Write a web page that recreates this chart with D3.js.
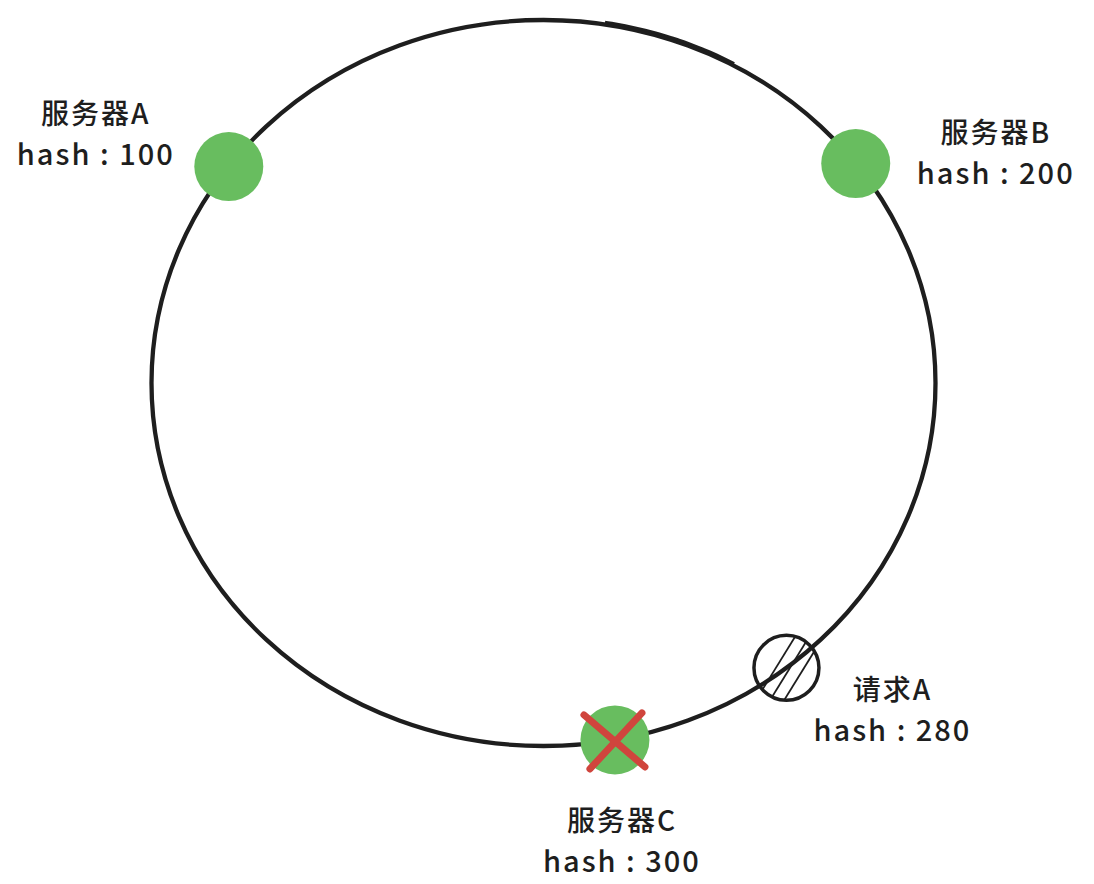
<!DOCTYPE html>
<html>
<head>
<meta charset="utf-8">
<script src="https://cdn.jsdelivr.net/npm/d3@7/dist/d3.min.js"></script>
<style>
  html, body { margin: 0; padding: 0; background: #ffffff; }
  svg { display: block; }
  text { font-family: "Noto Sans CJK SC", "Noto Sans", sans-serif; fill: #1e1e1e; }
</style>
</head>
<body>
<svg id="chart" width="1094" height="884"></svg>
<script>
// ---- data ----
const nodeNames  = ["服务器A", "服务器B", "服务器C", "请求A"];
const nodeHashes = [100, 200, 300, 280];
const nodeKinds  = ["server", "server", "server", "request"];
const nodeDown   = [false, false, true, false];
const hashLabelPrefix = "hash : ";

// ---- layout (not data) ----
const W = 1094, H = 884;
const ring = { cx: 543.5, cy: 383, rx: 392, ry: 363 };
// hash -> angle on the ring (degrees, clockwise from top), polylinear scale
const angleScale = d3.scaleLinear()
  .domain([100, 200, 280, 300])
  .range([-53.4, 52.8, 141.7, 169.5]);
// label offsets relative to each node (layout)
const labelOffset = [
  { dx: -133, dy: -55 },
  { dx: 140, dy: -33 },
  { dx: 7, dy: 79 },
  { dx: 106, dy: 20 }
];
const lineGap = 40;

const svg = d3.select("#chart");

function ringPoint(hash) {
  const t = angleScale(hash) * Math.PI / 180;
  return [ring.cx + ring.rx * Math.sin(t), ring.cy - ring.ry * Math.cos(t)];
}

// ring
svg.append("ellipse")
  .attr("cx", ring.cx).attr("cy", ring.cy)
  .attr("rx", ring.rx).attr("ry", ring.ry)
  .attr("fill", "none")
  .attr("stroke", "#1e1e1e")
  .attr("stroke-width", 4.3);

// sketchy second stroke near the top
const sketchArc = d3.range(9, 30, 1).map(a => {
  const t = a * Math.PI / 180;
  return [ring.cx + (ring.rx + 1.5) * Math.sin(t), ring.cy - (ring.ry + 2.5) * Math.cos(t)];
});
svg.append("path")
  .attr("d", d3.line().curve(d3.curveBasis)(sketchArc))
  .attr("fill", "none")
  .attr("stroke", "#1e1e1e")
  .attr("stroke-width", 2.5);

const nodes = nodeNames.map((name, i) => ({
  name, hash: nodeHashes[i], kind: nodeKinds[i], down: nodeDown[i],
  pos: ringPoint(nodeHashes[i]), off: labelOffset[i]
}));

const defs = svg.append("defs");

// nodes
nodes.forEach((d, i) => {
  const [x, y] = d.pos;
  if (d.kind === "server") {
    svg.append("circle")
      .attr("cx", x).attr("cy", y).attr("r", 34.5)
      .attr("fill", "#68bd5f");
    if (d.down) {
      const s = 28;
      svg.append("line")
        .attr("x1", x - s - 3).attr("y1", y - s + 3)
        .attr("x2", x + s + 2).attr("y2", y + s - 1)
        .attr("stroke", "#d0453d").attr("stroke-width", 7).attr("stroke-linecap", "round");
      svg.append("line")
        .attr("x1", x + s - 1).attr("y1", y - s + 1)
        .attr("x2", x - s + 3).attr("y2", y + s + 1)
        .attr("stroke", "#d0453d").attr("stroke-width", 7).attr("stroke-linecap", "round");
    }
  } else {
    const r = 32.5;
    const clipId = "clip" + i;
    defs.append("clipPath").attr("id", clipId)
      .append("circle").attr("cx", x).attr("cy", y).attr("r", r);
    const g = svg.append("g").attr("clip-path", `url(#${clipId})`);
    const dir = [0.525, -0.851], nrm = [0.851, 0.525];
    [-9, 3, 15].forEach(o => {
      const px = x + nrm[0] * o, py = y + nrm[1] * o;
      g.append("line")
        .attr("x1", px - dir[0] * 50).attr("y1", py - dir[1] * 50)
        .attr("x2", px + dir[0] * 50).attr("y2", py + dir[1] * 50)
        .attr("stroke", "#1e1e1e").attr("stroke-width", 1.8);
    });
    svg.append("circle")
      .attr("cx", x).attr("cy", y).attr("r", r)
      .attr("fill", "none")
      .attr("stroke", "#1e1e1e").attr("stroke-width", 3.5);
  }
});

// labels
nodes.forEach(d => {
  const [x, y] = d.pos;
  const lx = x + d.off.dx, ly = y + d.off.dy;
  svg.append("text")
    .attr("x", lx).attr("y", ly)
    .attr("text-anchor", "middle")
    .attr("dominant-baseline", "central")
    .attr("font-size", 28)
    .attr("font-weight", 500)
    .attr("letter-spacing", 2)
    .text(d.name);
  svg.append("text")
    .attr("x", lx).attr("y", ly + lineGap)
    .attr("text-anchor", "middle")
    .attr("dominant-baseline", "central")
    .attr("font-size", 29)
    .attr("font-weight", 500)
    .attr("letter-spacing", 2)
    .attr("xml:space", "preserve")
    .style("white-space", "pre")
    .text(hashLabelPrefix + d.hash);
});
</script>
</body>
</html>
